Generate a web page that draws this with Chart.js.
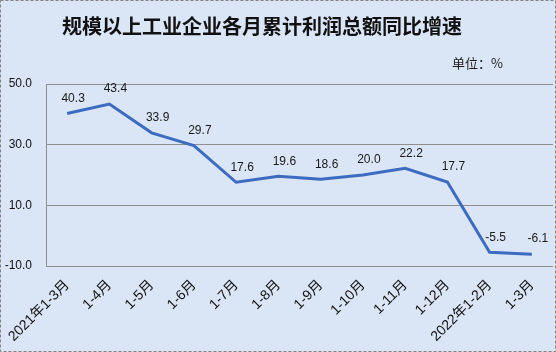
<!DOCTYPE html>
<html>
<head>
<meta charset="utf-8">
<script src="https://cdn.jsdelivr.net/npm/chart.js@4.4.0/dist/chart.umd.min.js"></script>
<style>
  html, body { margin: 0; padding: 0; background: #ffffff; }
</style>
</head>
<body>
<canvas id="chart" width="556" height="352"></canvas>
<script>
// data
const categories = ["2021年1-3月", "1-4月", "1-5月", "1-6月", "1-7月", "1-8月", "1-9月", "1-10月", "1-11月", "1-12月", "2022年1-2月", "1-3月"];
const growthRates = [40.3, 43.4, 33.9, 29.7, 17.6, 19.6, 18.6, 20.0, 22.2, 17.7, -5.5, -6.1];
const yTickValues = [-10, 10, 30, 50];
const chartTitle = "规模以上工业企业各月累计利润总额同比增速";
const unitText = "单位：%";

const bgColor = "#dae5f6";
const lineColor = "#3c6cc0";
const gridColor = "#8f8f8f";

// background, dashed frame, title and unit note
const framePlugin = {
  id: "frame",
  beforeDraw(chart) {
    const ctx = chart.ctx;
    ctx.save();
    ctx.fillStyle = bgColor;
    ctx.fillRect(0, 0, chart.width, chart.height);
    ctx.strokeStyle = "#808080";
    ctx.setLineDash([3, 2]);
    ctx.lineWidth = 1;
    ctx.strokeRect(0.5, 0.5, chart.width - 1, chart.height - 1);
    ctx.restore();
  },
  afterDraw(chart) {
    const ctx = chart.ctx;
    ctx.save();
    ctx.fillStyle = "#111";
    ctx.textBaseline = "middle";
    ctx.textAlign = "center";
    ctx.font = 'bold 20px "Noto Sans CJK SC"';
    ctx.fillText(chartTitle, 262, 26);
    ctx.fillStyle = "#1a1a1a";
    ctx.font = '13px "Noto Sans CJK SC"';
    ctx.textAlign = "right";
    ctx.fillText(unitText, 503, 63);
    ctx.restore();
  }
};

// value labels above each point
const valueLabels = {
  id: "valueLabels",
  afterDatasetsDraw(chart) {
    const ctx = chart.ctx;
    const meta = chart.getDatasetMeta(0);
    ctx.save();
    ctx.fillStyle = "#1a1a1a";
    ctx.font = '12px "Liberation Sans"';
    ctx.textAlign = "center";
    ctx.textBaseline = "middle";
    meta.data.forEach((pt, i) => {
      ctx.fillText(growthRates[i].toFixed(1), pt.x + 6, pt.y - 15);
    });
    ctx.restore();
  }
};

new Chart(document.getElementById("chart"), {
  type: "line",
  data: {
    labels: categories,
    datasets: [{
      data: growthRates,
      borderColor: lineColor,
      borderWidth: 3,
      pointRadius: 0,
      tension: 0,
      fill: false
    }]
  },
  options: {
    responsive: false,
    animation: false,
    layout: { padding: { left: 5, right: 3, top: 84, bottom: 4 } },
    plugins: {
      legend: { display: false },
      tooltip: { enabled: false },
      title: { display: false }
    },
    scales: {
      x: {
        offset: true,
        grid: { display: false, drawTicks: false },
        border: { display: false },
        ticks: {
          color: "#111",
          font: { family: '"Liberation Sans", "Noto Sans CJK SC"', size: 14 },
          maxRotation: 45,
          minRotation: 45,
          padding: 11,
          autoSkip: false
        },
        afterFit(axis) {
          axis.height = 82;
          axis.paddingLeft = 0;
          axis.paddingRight = 0;
        }
      },
      y: {
        min: -10,
        max: 50,
        afterBuildTicks(axis) {
          axis.ticks = yTickValues.map(v => ({ value: v }));
        },
        afterFit(axis) {
          axis.width = 41;
          axis.paddingTop = 0;
        },
        grid: { color: gridColor, drawTicks: false },
        border: { display: true, color: gridColor },
        ticks: {
          color: "#111",
          font: { family: '"Liberation Sans"', size: 12 },
          padding: 14,
          callback: v => Number(v).toFixed(1)
        }
      }
    }
  },
  plugins: [framePlugin, valueLabels]
});
</script>
</body>
</html>
